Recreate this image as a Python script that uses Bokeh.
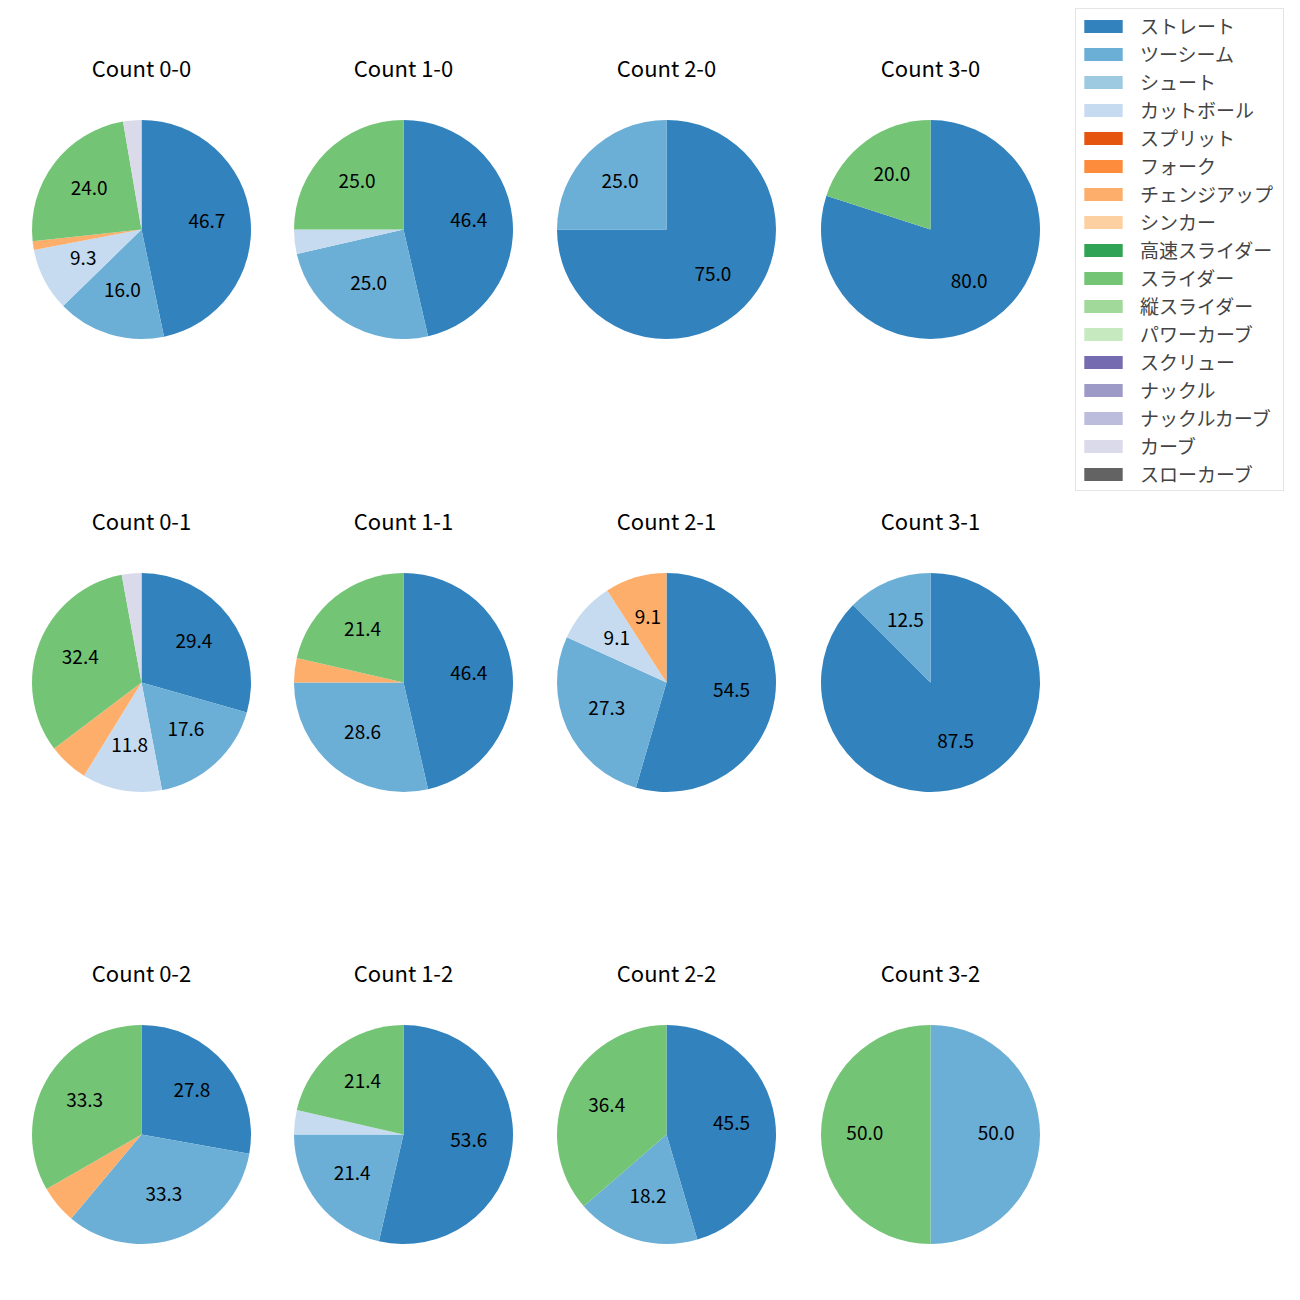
import math
from bokeh.plotting import figure
from bokeh.models import ColumnDataSource, Range1d, Legend, LegendItem
from bokeh.core.properties import value
from bokeh.embed import file_html
from bokeh.resources import INLINE

# ---------------- data ----------------
pitch_types = ["ストレート", "ツーシーム", "シュート", "カットボール", "スプリット", "フォーク",
               "チェンジアップ", "シンカー", "高速スライダー", "スライダー", "縦スライダー",
               "パワーカーブ", "スクリュー", "ナックル", "ナックルカーブ", "カーブ", "スローカーブ"]
colors = ["#3182bd", "#6baed6", "#9ecae1", "#c6dbef", "#e6550d", "#fd8d3c", "#fdae6b",
          "#fdd0a2", "#31a354", "#74c476", "#a1d99b", "#c7e9c0", "#756bb1", "#9e9ac8",
          "#bcbddc", "#dadaeb", "#636363"]

# percentages per pitch type (same order as pitch_types)
pct_0_0 = [46.7, 16.0, 0, 9.3, 0, 0, 1.3, 0, 0, 24.0, 0, 0, 0, 0, 0, 2.7, 0]
pct_1_0 = [46.4, 25.0, 0, 3.6, 0, 0, 0, 0, 0, 25.0, 0, 0, 0, 0, 0, 0, 0]
pct_2_0 = [75.0, 25.0, 0, 0, 0, 0, 0, 0, 0, 0, 0, 0, 0, 0, 0, 0, 0]
pct_3_0 = [80.0, 0, 0, 0, 0, 0, 0, 0, 0, 20.0, 0, 0, 0, 0, 0, 0, 0]
pct_0_1 = [29.4, 17.6, 0, 11.8, 0, 0, 5.9, 0, 0, 32.4, 0, 0, 0, 0, 0, 2.9, 0]
pct_1_1 = [46.4, 28.6, 0, 0, 0, 0, 3.6, 0, 0, 21.4, 0, 0, 0, 0, 0, 0, 0]
pct_2_1 = [54.5, 27.3, 0, 9.1, 0, 0, 9.1, 0, 0, 0, 0, 0, 0, 0, 0, 0, 0]
pct_3_1 = [87.5, 12.5, 0, 0, 0, 0, 0, 0, 0, 0, 0, 0, 0, 0, 0, 0, 0]
pct_0_2 = [27.8, 33.3, 0, 0, 0, 0, 5.6, 0, 0, 33.3, 0, 0, 0, 0, 0, 0, 0]
pct_1_2 = [53.6, 21.4, 0, 3.6, 0, 0, 0, 0, 0, 21.4, 0, 0, 0, 0, 0, 0, 0]
pct_2_2 = [45.5, 18.2, 0, 0, 0, 0, 0, 0, 0, 36.4, 0, 0, 0, 0, 0, 0, 0]
pct_3_2 = [0, 50.0, 0, 0, 0, 0, 0, 0, 0, 50.0, 0, 0, 0, 0, 0, 0, 0]

pie_titles = ["Count 0-0", "Count 1-0", "Count 2-0", "Count 3-0",
              "Count 0-1", "Count 1-1", "Count 2-1", "Count 3-1",
              "Count 0-2", "Count 1-2", "Count 2-2", "Count 3-2"]
pie_values = [pct_0_0, pct_1_0, pct_2_0, pct_3_0,
              pct_0_1, pct_1_1, pct_2_1, pct_3_1,
              pct_0_2, pct_1_2, pct_2_2, pct_3_2]

# ---------------- layout (page pixels) ----------------
SIZE = 1284
col_x = [141, 403, 666, 930]
row_y = [229, 682, 1134]
R = 109.5
TITLE_OFF = 163
LABEL_DIST = 0.6
MIN_LABEL = 8.0
FONT = "Noto Sans CJK JP"


def Y(ypage):
    return SIZE - ypage


p = figure(width=SIZE, height=SIZE, x_range=Range1d(0, SIZE), y_range=Range1d(0, SIZE),
           output_backend="svg", toolbar_location=None, min_border=0,
           x_axis_location=None, y_axis_location=None)
p.grid.visible = False
p.outline_line_color = None
p.background_fill_color = "white"

centers = []
for i in range(len(pie_values)):
    centers.append((col_x[i % 4], Y(row_y[i // 4])))

wedge_data = {k: dict(x=[], y=[], r=[], start=[], end=[]) for k in range(len(pitch_types))}
lab = dict(x=[], y=[], text=[])
for i, vals in enumerate(pie_values):
    cx, cy = centers[i]
    total = float(sum(vals))
    cum = 0.0
    for k, v in enumerate(vals):
        c0 = cum / total
        cum += v
        c1 = cum / total
        a_start = math.pi / 2 - 2 * math.pi * c1
        a_end = math.pi / 2 - 2 * math.pi * c0
        d = wedge_data[k]
        d["x"].append(cx)
        d["y"].append(cy)
        d["r"].append(R if v > 0 else 0.0)
        d["start"].append(a_start)
        d["end"].append(a_end if v > 0 else a_start + 1e-9)
        if v >= MIN_LABEL:
            mid = (a_start + a_end) / 2
            lab["x"].append(cx + LABEL_DIST * R * math.cos(mid))
            lab["y"].append(cy + LABEL_DIST * R * math.sin(mid))
            lab["text"].append(f"{v:.1f}")

items = []
for k, name in enumerate(pitch_types):
    src = ColumnDataSource(wedge_data[k])
    r = p.wedge(x="x", y="y", radius="r", start_angle="start", end_angle="end",
                fill_color=colors[k], line_color=None, source=src)
    items.append(LegendItem(label=name, renderers=[r]))

p.text(x="x", y="y", text="text", source=ColumnDataSource(lab),
       text_font=value(FONT), text_font_size="19px", text_align="center",
       text_baseline="middle", text_color="black", y_offset=-2)

title_src = ColumnDataSource(dict(x=[c[0] for c in centers],
                                  y=[c[1] + TITLE_OFF for c in centers],
                                  text=pie_titles))
p.text(x="x", y="y", text="text", source=title_src,
       text_font=value(FONT), text_font_size="22px", text_align="center",
       text_baseline="middle", text_color="black")

legend = Legend(items=items, location=(1075, 793),
                label_text_font=FONT, label_text_font_size="19px",
                glyph_width=48, glyph_height=16, label_standoff=13,
                label_height=20, label_width=140, spacing=1, padding=3, margin=0,
                border_line_color="#cccccc", border_line_width=1,
                background_fill_color="white", background_fill_alpha=0.8)
p.add_layout(legend)

open("out.html", "w").write(file_html(p, INLINE))
